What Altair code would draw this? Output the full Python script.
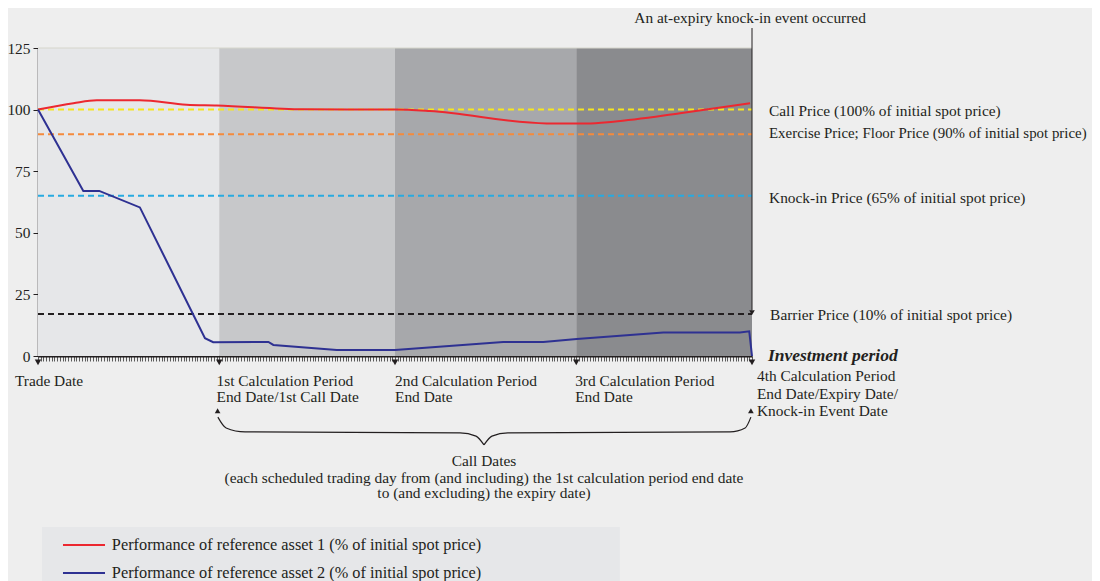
import altair as alt
import pandas as pd

FONT = "Liberation Serif"
INK = "#231f20"
FS = 15.4

# ---- data -------------------------------------------------------------
period_start = [0, 66, 130, 196]
period_end = [66, 130, 196, 260]
period_color = ["#e6e7e9", "#c7c8ca", "#a7a8ab", "#8a8b8e"]

red_days = [0, 12.9, 21.4, 37.1, 54.1, 65.1, 96.6, 130, 142.7, 185.2, 199.8, 209.5, 233.8, 259.3]
red_vals = [100, 102.6, 103.8, 103.8, 102.0, 101.7, 100.1, 100.0, 99.4, 94.4, 94.4, 95.1, 98.5, 102.6]

blue_days = [0, 16.5, 22.3, 37.1, 60.8, 63.8, 83.9, 85.7, 108.8, 130, 169.4, 184, 196.2, 227.7, 255.6, 259, 260]
blue_vals = [100, 67, 67, 60.3, 7.2, 5.6, 5.7, 4.5, 2.4, 2.4, 5.7, 5.7, 6.9, 9.5, 9.5, 10, 0]

level_vals = [100, 90, 65, 17]
level_colors = ["#f5e61e", "#f58a3c", "#27aae1", INK]
level_labels = [
    "Call Price (100% of initial spot price)",
    "Exercise Price; Floor Price (90% of initial spot price)",
    "Knock-in Price (65% of initial spot price)",
    "Barrier Price (10% of initial spot price)",
]
level_label_vals = [99.4, 90.0, 64.0, 16.8]
level_label_sizes = [15.4, 14.9, 15.4, 15.4]

boundary_days = [0, 66, 130, 196, 260]
y_ticks = [0, 25, 50, 75, 100, 125]
x_ticks = list(range(0, 261))

bottom_text = ["Trade Date",
               "1st Calculation Period", "End Date/1st Call Date",
               "2nd Calculation Period", "End Date",
               "3rd Calculation Period", "End Date",
               "4th Calculation Period", "End Date/Expiry Date/", "Knock-in Event Date"]
bottom_d = [-8.4, 65.0, 65.0, 130.0, 130.0, 195.6, 195.6, 261.8, 261.8, 261.8]
bottom_v = [-10.1, -10.1, -16.6, -10.1, -16.6, -10.1, -16.6, -8.1, -15.4, -22.3]

brace_left_d = [65.5, 68.5, 75.4, 153.7, 159.5, 162.4]
brace_left_v = [-24.8, -29.2, -30.8, -31.2, -32.5, -36.1]
brace_right_d = [162.4, 165.3, 171.1, 252.0, 257.5, 259.6]
brace_right_v = [-36.1, -32.5, -31.2, -30.8, -29.2, -24.8]

call_text = ["Call Dates",
             "(each scheduled trading day from (and including) the 1st calculation period end date",
             "to (and excluding) the expiry date)"]
call_v = [-42.6, -49.5, -55.6]

legend_labels = ["Performance of reference asset 1 (% of initial spot price)",
                 "Performance of reference asset 2 (% of initial spot price)"]
legend_colors = ["#ec2830", "#2e3192"]
legend_v = [-76.7, -88.1]

# ---- shared encodings -------------------------------------------------
xs = alt.Scale(domain=[0, 260], nice=False, zero=False)
ys = alt.Scale(domain=[0, 125], nice=False, zero=False)
xaxis = alt.Axis(values=x_ticks, tickSize=5, tickWidth=0.8, tickColor="#333333",
                 labels=False, domainWidth=2, domainColor=INK, title=None, grid=False)
yaxis = alt.Axis(values=y_ticks, tickSize=5, tickColor=INK, domainColor=INK, domainWidth=1.5,
                 labelFont=FONT, labelFontSize=FS, labelColor=INK, labelPadding=3,
                 title=None, grid=False)


def X(f):
    return alt.X(f, type="quantitative", scale=xs, axis=xaxis)


def Y(f):
    return alt.Y(f, type="quantitative", scale=ys, axis=yaxis)


# ---- layers -----------------------------------------------------------
periods = pd.DataFrame({"s": period_start, "e": period_end, "c": period_color,
                        "y0": [0] * 4, "y1": [125] * 4})
bg = alt.Chart(periods).mark_rect().encode(
    x=X("s"), x2="e", y=Y("y0"), y2="y1", color=alt.Color("c:N", scale=None))

top_edge = alt.Chart(pd.DataFrame({"a": [0], "b": [260], "v": [125]})).mark_rule(
    color="#d6d6cc", strokeWidth=1).encode(x=X("a"), x2="b", y=Y("v"))

levels = pd.DataFrame({"v": level_vals, "c": level_colors, "a": [0] * 4, "b": [260] * 4})
level_rules = alt.Chart(levels).mark_rule(strokeWidth=2, strokeDash=[6, 4]).encode(
    x=X("a"), x2="b", y=Y("v"), color=alt.Color("c:N", scale=None))

red = alt.Chart(pd.DataFrame({"d": red_days, "v": red_vals})).mark_line(
    color="#ec2830", strokeWidth=2, interpolate="monotone").encode(x=X("d"), y=Y("v"))
blue = alt.Chart(pd.DataFrame({"d": blue_days, "v": blue_vals})).mark_line(
    color="#2e3192", strokeWidth=2).encode(x=X("d"), y=Y("v"))

arrows = alt.Chart(pd.DataFrame({"d": boundary_days, "v": [-2.6] * 5})).mark_point(
    shape="triangle-down", filled=True, size=42, color=INK, opacity=1).encode(x=X("d"), y=Y("v"))

event_rule = alt.Chart(pd.DataFrame({"d": [260], "a": [133.1], "b": [18.6]})).mark_rule(
    color=INK, strokeWidth=1).encode(x=X("d"), y=Y("a"), y2="b")
event_arrow = alt.Chart(pd.DataFrame({"d": [260], "v": [17.6]})).mark_point(
    shape="triangle-down", filled=True, size=32, color=INK, opacity=1).encode(x=X("d"), y=Y("v"))
event_text = alt.Chart(pd.DataFrame({"d": [259.3], "v": [137.2],
                                     "t": ["An at-expiry knock-in event occurred"]})).mark_text(
    font=FONT, fontSize=FS, color=INK, align="center", baseline="middle").encode(
    x=X("d"), y=Y("v"), text="t:N")

level_text = alt.Chart(pd.DataFrame({"d": [266.2, 266.2, 266.2, 266.6], "v": level_label_vals,
                                     "t": level_labels, "fs": level_label_sizes})).mark_text(
    font=FONT, color=INK, align="left", baseline="middle").encode(
    x=X("d"), y=Y("v"), text="t:N", size=alt.Size("fs:Q", scale=None, legend=None))

invest = alt.Chart(pd.DataFrame({"d": [265.8], "v": [0.0], "t": ["Investment period"]})).mark_text(
    font=FONT, fontSize=17.5, fontWeight="bold", fontStyle="italic", color=INK,
    align="left", baseline="middle").encode(x=X("d"), y=Y("v"), text="t:N")

bottom = alt.Chart(pd.DataFrame({"d": bottom_d, "v": bottom_v, "t": bottom_text})).mark_text(
    font=FONT, fontSize=FS, color=INK, align="left", baseline="middle").encode(
    x=X("d"), y=Y("v"), text="t:N")

brace_df = pd.DataFrame({
    "d": brace_left_d + brace_right_d,
    "v": brace_left_v + brace_right_v,
    "g": ["l"] * len(brace_left_d) + ["r"] * len(brace_right_d),
})
brace = alt.Chart(brace_df).mark_line(color=INK, strokeWidth=1.2, interpolate="monotone").encode(
    x=X("d"), y=Y("v"), detail="g:N")
brace_arrows = alt.Chart(pd.DataFrame({"d": [65.4, 259.6], "v": [-22.2, -22.2]})).mark_point(
    shape="triangle-up", filled=True, size=32, color=INK, opacity=1).encode(x=X("d"), y=Y("v"))

call = alt.Chart(pd.DataFrame({"d": [162.4] * 3, "v": call_v, "t": call_text})).mark_text(
    font=FONT, fontSize=FS, color=INK, align="center", baseline="middle").encode(
    x=X("d"), y=Y("v"), text="t:N")

legend_box = alt.Chart(pd.DataFrame({"a": [1.46], "b": [211.9], "y0": [-69.4], "y1": [-96.0]})).mark_rect(
    color="#e6e7e9").encode(x=X("a"), x2="b", y=Y("y0"), y2="y1")
legend_lines = alt.Chart(pd.DataFrame({"a": [9.1, 9.1], "b": [24.4, 24.4], "v": legend_v,
                                       "c": legend_colors})).mark_rule(strokeWidth=2).encode(
    x=X("a"), x2="b", y=Y("v"), color=alt.Color("c:N", scale=None))
legend_text = alt.Chart(pd.DataFrame({"d": [26.9, 26.9], "v": legend_v, "t": legend_labels})).mark_text(
    font=FONT, fontSize=16.3, color=INK, align="left", baseline="middle").encode(
    x=X("d"), y=Y("v"), text="t:N")

chart = alt.layer(
    bg, top_edge, level_rules, red, blue, arrows, event_rule, event_arrow, event_text,
    level_text, invest, bottom, brace, brace_arrows, call, legend_box, legend_lines, legend_text,
).properties(
    width=714, height=308,
    autosize=alt.AutoSizeParams(type="none"),
    padding={"left": 30, "top": 40, "right": 340, "bottom": 225},
    background="#eeeeee",
).configure_view(stroke=None)

chart.save("out.html", embed_options={"renderer": "svg", "actions": False})
